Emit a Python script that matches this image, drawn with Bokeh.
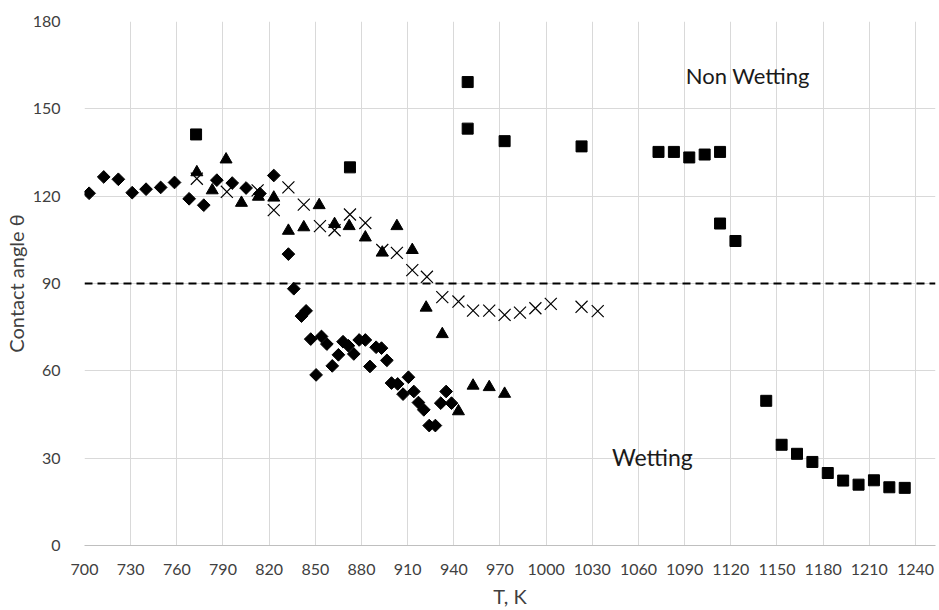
from bokeh.plotting import figure
from bokeh.models import FixedTicker, Span, Label
from bokeh.embed import file_html
from bokeh.resources import INLINE
import math

FONT = "Lato"

# ---- data ----
diamond_T = [703, 712.5, 722, 731, 740, 749.5, 758.5, 768, 777.5, 786, 796, 805, 814, 823,
             832.5, 836, 841, 844, 847, 850.5, 854, 857.5, 861, 865, 868, 871.5, 875, 878.5,
             882.5, 885.5, 889.5, 893, 896.5, 899.5, 903.5, 907, 910.5, 914, 917, 920.5, 924,
             928, 931.5, 935, 938.5]
diamond_theta = [121, 126.6, 125.8, 121.2, 122.4, 123, 124.7, 119.1, 116.9, 125.5, 124.5, 122.8,
                 120.9, 127.1, 100.1, 88.2, 78.8, 80.6, 70.9, 58.6, 71.8, 69.2, 61.7, 65.5, 70.0,
                 68.6, 65.8, 70.6, 70.6, 61.5, 68.1, 67.8, 63.6, 55.8, 55.5, 52.0, 57.8, 52.9,
                 49.1, 46.6, 41.2, 41.2, 48.9, 52.9, 48.9]

triangle_T = [773, 783, 792, 802, 813, 823, 832.5, 842.5, 852.5, 862.5, 872, 882.5, 893.5, 903,
              913, 922, 932.5, 943, 952.5, 963, 973]
triangle_theta = [128.2, 122, 132.6, 117.7, 119.8, 119.5, 108.1, 109.3, 116.9, 110.4, 109.7,
                  105.8, 100.6, 109.7, 101.5, 81.7, 72.6, 46.1, 54.9, 54.4, 52.1]

cross_T = [773, 792.5, 812.5, 823, 832.5, 842.5, 853, 862.5, 872.5, 882.5, 893.5, 903, 913,
           922.5, 932.5, 943, 952.5, 963, 973, 983, 993, 1003, 1023, 1033.5]
cross_theta = [126, 121.5, 122, 115.2, 123, 117.1, 109.7, 108.3, 113.7, 110.8, 101.5, 100.5,
               94.6, 92.3, 85.3, 83.8, 80.7, 80.7, 79.2, 80, 81.5, 83, 82, 80.5]

square_T = [772.5, 872.5, 949, 949, 973, 1023, 1073, 1083, 1093, 1103, 1113, 1113, 1123, 1143,
            1153, 1163, 1173, 1183, 1193, 1203, 1213, 1223, 1233]
square_theta = [141.2, 129.9, 159.2, 143.2, 138.9, 137.1, 135.2, 135.2, 133.3, 134.3, 135.2,
                110.6, 104.6, 49.7, 34.6, 31.5, 28.7, 24.9, 22.3, 20.9, 22.4, 20, 19.8]

x_ticks = list(range(700, 1241, 30))
y_ticks = list(range(0, 181, 30))
threshold = 90

# ---- figure ----
p = figure(width=938, height=610, x_range=(700, 1253), y_range=(0, 180),
           output_backend="svg", toolbar_location=None,
           min_border_left=80, min_border_right=3, min_border_top=21, min_border_bottom=64)
p.outline_line_color = None
p.background_fill_color = "white"

p.xaxis.ticker = FixedTicker(ticks=x_ticks)
p.yaxis.ticker = FixedTicker(ticks=y_ticks)
for ax in (p.xaxis, p.yaxis):
    ax.major_tick_line_color = None
    ax.minor_tick_line_color = None
    ax.major_label_text_font = FONT
    ax.major_label_text_font_size = "16px"
    ax.major_label_text_color = "#404040"
    ax.axis_label_text_font = FONT
    ax.axis_label_text_font_size = "20px"
    ax.axis_label_text_font_style = "normal"
    ax.axis_label_text_color = "#404040"
p.xaxis.axis_line_color = "#bfbfbf"
p.yaxis.axis_line_color = None
p.xaxis.major_label_standoff = 12
p.yaxis.major_label_standoff = 18
p.xaxis.axis_label = "T, K"
p.yaxis.axis_label = "Contact angle θ"
p.xaxis.axis_label_standoff = 6
p.yaxis.axis_label_standoff = 2

p.xgrid.grid_line_color = "#d9d9d9"
p.ygrid.grid_line_color = "#d9d9d9"

p.scatter(diamond_T, diamond_theta, marker="square", size=9, angle=math.pi / 4,
          fill_color="black", line_color="black")
p.scatter(triangle_T, triangle_theta, marker="triangle", size=12,
          fill_color="black", line_color="black")
p.scatter(cross_T, cross_theta, marker="x", size=17, line_color="black", line_width=1.2)
p.scatter(square_T, square_theta, marker="square", size=11,
          fill_color="black", line_color="black")

p.add_layout(Span(location=threshold, dimension="width", line_color="black",
                  line_width=2, line_dash="8 5"))

p.add_layout(Label(x=1131, y=161.5, text="Non Wetting", text_font=FONT,
                   text_font_size="22px", text_color="#1a1a1a",
                   text_align="center", text_baseline="middle"))
p.add_layout(Label(x=1069, y=30.5, text="Wetting", text_font=FONT,
                   text_font_size="23px", text_color="#1a1a1a",
                   text_align="center", text_baseline="middle"))

open("out.html", "w").write(file_html(p, INLINE))
